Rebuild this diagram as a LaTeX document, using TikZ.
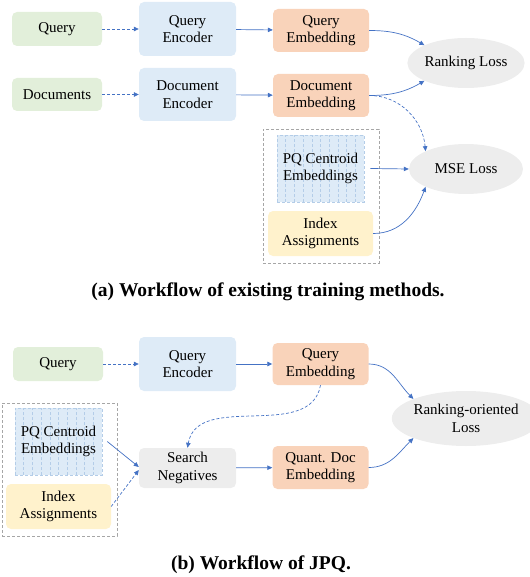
\documentclass[tikz,border=0pt]{standalone}
\usepackage{fontspec}
\setmainfont{Liberation Serif}
\usetikzlibrary{arrows.meta,shapes.geometric,calc}
\definecolor{gfill}{HTML}{E2EFDA}
\definecolor{bfill}{HTML}{DEEBF7}
\definecolor{ofill}{HTML}{F9D3BA}
\definecolor{yfill}{HTML}{FFF2CC}
\definecolor{grfill}{HTML}{EDEDED}
\definecolor{arr}{HTML}{4472C4}
\definecolor{hatch}{HTML}{B4CDE8}
\definecolor{frame}{HTML}{A6A6A6}
\tikzset{
  box/.style={rounded corners=5pt, align=center, inner sep=0pt,
    font=\fontsize{15}{17.5}\selectfont},
  gbox/.style={box, fill=gfill, minimum width=90pt, minimum height=34pt},
  bbox/.style={box, fill=bfill, minimum width=97pt},
  obox/.style={box, fill=ofill, minimum width=96pt},
  ybox/.style={box, fill=yfill},
  loss/.style={ellipse, fill=grfill, inner sep=0pt, align=center,
    minimum width=114pt, font=\fontsize{15}{17.5}\selectfont},
  pqbox/.style={align=center, inner sep=0pt, fill=bfill,
    draw=hatch, dash pattern=on 3pt off 2pt, line width=0.5pt,
    font=\fontsize{15}{17.5}\selectfont,
    path picture={
      \foreach \i in {1,...,9}
        \draw[hatch, line width=0.5pt, dash pattern=on 3pt off 2pt]
          ($(path picture bounding box.south west)+(\i*8.7pt,0)$) --
          ($(path picture bounding box.north west)+(\i*8.7pt,0)$);
    }},
  container/.style={draw=frame, dash pattern=on 3pt off 2pt, line width=0.8pt, inner sep=0pt},
  conn/.style={draw=arr, line width=0.7pt, -{Triangle[length=5pt,width=4.5pt]}},
  dconn/.style={conn, dash pattern=on 3pt off 2pt},
  caption/.style={font=\fontsize{19.5}{22}\selectfont\bfseries}
}
\begin{document}
\begin{tikzpicture}[x=1pt,y=-1pt]
\useasboundingbox (0,0) rectangle (529,577);
% ---------- (a) ----------
\node[container, minimum width=116pt, minimum height=134pt] (ca) at (321,196) {};
\node[gbox] (qa) at (57,29) {Query};
\node[gbox, minimum height=33pt] (da) at (57,94.5) {Documents};
\node[bbox, minimum height=54pt] (qea) at (187.5,29) {Query\\Encoder};
\node[bbox, minimum height=53pt] (dea) at (187.5,94.5) {Document\\Encoder};
\node[obox, minimum height=43pt] (qma) at (321,30.5) {Query\\Embedding};
\node[obox, minimum height=43pt] (dma) at (321,95.5) {Document\\Embedding};
\node[loss, minimum height=50pt] (rla) at (466,63) {Ranking Loss};
\node[loss, minimum height=50pt] (msa) at (466,169) {MSE Loss};
\node[pqbox, minimum width=87pt, minimum height=67pt] (pqa) at (320.5,168.5) {PQ Centroid\\Embeddings};
\node[ybox, minimum width=105pt, minimum height=45pt] (ia) at (320.5,233.5) {Index\\Assignments};

\draw[dconn] (qa) -- (qea);
\draw[dconn] (da) -- (dea);
\draw[conn] (qea) -- (qma);
\draw[conn] (dea) -- (dma);
\draw[conn] (qma.east) to[out=0,in=150] (rla.north west);
\draw[conn] (dma.east) to[out=0,in=210] (rla.south west);
\draw[dconn] (dma.east) to[out=0,in=95] (msa.north west);
\draw[conn] ($(pqa.east)+(6,0)$) -- (msa.west);
\draw[conn] (ia.east) to[out=0,in=250] (msa.south west);

\node[caption] (capa) at (268,292) {(a) Workflow of existing training methods.};

% ---------- (b) ----------
\node[container, minimum width=115pt, minimum height=133pt] (cb) at (59.5,469.5) {};
\node[gbox] (qb) at (58,364) {Query};
\node[bbox, minimum height=54pt] (qeb) at (187.5,364) {Query\\Encoder};
\node[obox, minimum height=42pt] (qmb) at (320.5,364) {Query\\Embedding};
\node[loss, minimum height=55pt] (rlb) at (466,418.5) {Ranking-oriented\\Loss};
\node[pqbox, minimum width=87pt, minimum height=67pt] (pqb) at (58.5,441.5) {PQ Centroid\\Embeddings};
\node[ybox, minimum width=105pt, minimum height=45pt] (ib) at (58.5,506.5) {Index\\Assignments};
\node[box, fill=grfill, minimum width=97pt, minimum height=40pt] (snb) at (187.5,468) {Search\\Negatives};
\node[obox, minimum height=43pt] (qdb) at (320.5,467.5) {Quant. Doc\\Embedding};

\draw[dconn] (qb) -- (qeb);
\draw[conn] (qeb) -- (qmb);
\draw[dconn] (qmb.south) to[out=-100,in=80] (snb.north);
\draw[conn] ($(pqb.east)+(5,0)$) -- ($(snb.west)+(0,-1)$);
\draw[dconn] (ib.east) -- ($(snb.west)+(0,2)$);
\draw[conn] (snb) -- (qdb);
\draw[conn] (qmb.east) to[out=0,in=135] (rlb.north west);
\draw[conn] (qdb.east) to[out=0,in=225] (rlb.south west);

\node[caption] (capb) at (261,565) {(b) Workflow of JPQ.};
\end{tikzpicture}
\end{document}
